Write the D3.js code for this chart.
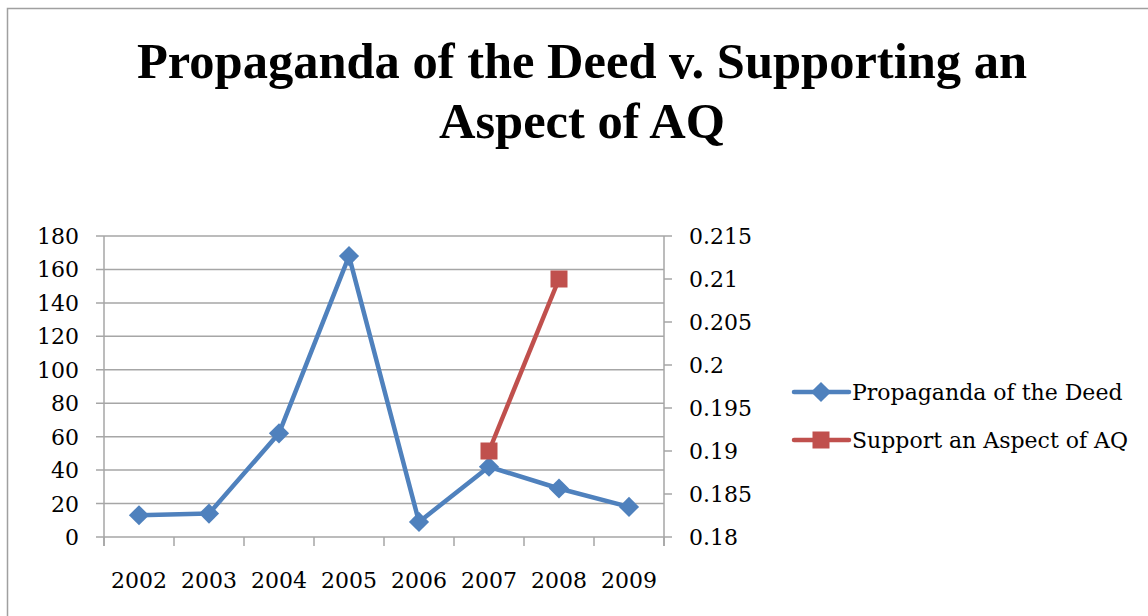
<!DOCTYPE html>
<html><head><meta charset="utf-8">
<script src="https://cdn.jsdelivr.net/npm/d3@7"></script>
<style>body{margin:0;background:#fff}svg{display:block}</style>
</head><body>
<script>
const years = ["2002","2003","2004","2005","2006","2007","2008","2009"];
const propaganda = [13, 14, 62, 168, 9, 42, 29, 18];
const supportYears = ["2007","2008"];
const support = [0.19, 0.21];
const leftTicks = [0,20,40,60,80,100,120,140,160,180];
const rightTicks = [0.18,0.185,0.19,0.195,0.2,0.205,0.21,0.215];
const titleLines = ["Propaganda of the Deed v. Supporting an","Aspect of AQ"];
const seriesNames = ["Propaganda of the Deed","Support an Aspect of AQ"];

const W=1148,H=616;
const svg=d3.select("body").append("svg").attr("width",W).attr("height",H);
const font="'DejaVu Serif', 'Liberation Serif', serif";
const tfont="'Liberation Serif', serif";
const blue="#4F81BD", red="#C0504D", grid="#a6a6a6";
const fs=22;

svg.append("rect").attr("x",7.5).attr("y",8.5).attr("width",1300).attr("height",800)
  .attr("fill","none").attr("stroke","#a0a0a0").attr("stroke-width",1.5);

svg.selectAll("text.title").data(titleLines).join("text").attr("class","title")
  .attr("x",582).attr("y",(d,i)=>78+i*60).attr("text-anchor","middle")
  .attr("font-family",tfont).attr("font-weight","bold").attr("font-size",50.5)
  .text(d=>d);

const L=104,R=664,T=236,B=537;
const x=d3.scaleBand().domain(years).range([L,R]);
const y=d3.scaleLinear().domain([0,180]).range([B,T]);
const y2=d3.scaleLinear().domain([0.18,0.215]).range([B,T]);

svg.append("g").selectAll("line").data(leftTicks).join("line")
  .attr("x1",L-8).attr("x2",R).attr("y1",d=>y(d)).attr("y2",d=>y(d))
  .attr("stroke",grid).attr("stroke-width",1.5);
svg.append("line").attr("x1",L).attr("x2",L).attr("y1",T).attr("y2",B+9).attr("stroke",grid).attr("stroke-width",1.5);
svg.append("line").attr("x1",R).attr("x2",R).attr("y1",T).attr("y2",B+9).attr("stroke",grid).attr("stroke-width",1.5);
svg.append("g").selectAll("line").data(rightTicks).join("line")
  .attr("x1",R).attr("x2",R+8).attr("y1",d=>y2(d)).attr("y2",d=>y2(d))
  .attr("stroke",grid).attr("stroke-width",1.5);
const xb=years.map(d=>x(d)).concat([R]);
svg.append("g").selectAll("line").data(xb).join("line")
  .attr("x1",d=>d).attr("x2",d=>d).attr("y1",B).attr("y2",B+9)
  .attr("stroke",grid).attr("stroke-width",1.5);

svg.append("g").selectAll("text").data(leftTicks).join("text")
  .attr("x",79).attr("y",d=>y(d)+8).attr("text-anchor","end")
  .attr("font-family",font).attr("font-size",fs).text(d=>d);
svg.append("g").selectAll("text").data(rightTicks).join("text")
  .attr("x",689).attr("y",d=>y2(d)+8).attr("text-anchor","start")
  .attr("font-family",font).attr("font-size",fs).text(d=>String(d));
svg.append("g").selectAll("text").data(years).join("text")
  .attr("x",d=>x(d)+x.bandwidth()/2).attr("y",588).attr("text-anchor","middle")
  .attr("font-family",font).attr("font-size",fs).text(d=>d);

const cx=d=>x(d)+x.bandwidth()/2;
const diamond=d3.symbol().type(d3.symbolDiamond2).size(260);
const pdata=years.map((d,i)=>[d,propaganda[i]]);
svg.append("path").datum(pdata).attr("fill","none").attr("stroke",blue).attr("stroke-width",4.5)
  .attr("stroke-linejoin","round")
  .attr("d",d3.line().x(d=>cx(d[0])).y(d=>y(d[1])));
svg.append("g").selectAll("path").data(pdata).join("path")
  .attr("transform",d=>`translate(${cx(d[0])},${y(d[1])})`).attr("d",diamond).attr("fill",blue);
const sdata=supportYears.map((d,i)=>[d,support[i]]);
svg.append("path").datum(sdata).attr("fill","none").attr("stroke",red).attr("stroke-width",4.5)
  .attr("d",d3.line().x(d=>cx(d[0])).y(d=>y2(d[1])));
svg.append("g").selectAll("rect").data(sdata).join("rect")
  .attr("x",d=>cx(d[0])-8.5).attr("y",d=>y2(d[1])-8.5).attr("width",17).attr("height",17).attr("fill",red);

const lg=svg.append("g");
[0,1].forEach(i=>{
  const ly=392+i*48;
  const c=i===0?blue:red;
  lg.append("line").attr("x1",794).attr("x2",849).attr("y1",ly).attr("y2",ly).attr("stroke",c).attr("stroke-width",4.5).attr("stroke-linecap","round");
  if(i===0) lg.append("path").attr("transform",`translate(821,${ly})`).attr("d",diamond).attr("fill",c);
  else lg.append("rect").attr("x",812.5).attr("y",ly-8.5).attr("width",17).attr("height",17).attr("fill",c);
  lg.append("text").attr("x",852).attr("y",ly+8).attr("font-family",font).attr("font-size",fs).text(seriesNames[i]);
});
</script>
</body></html>
